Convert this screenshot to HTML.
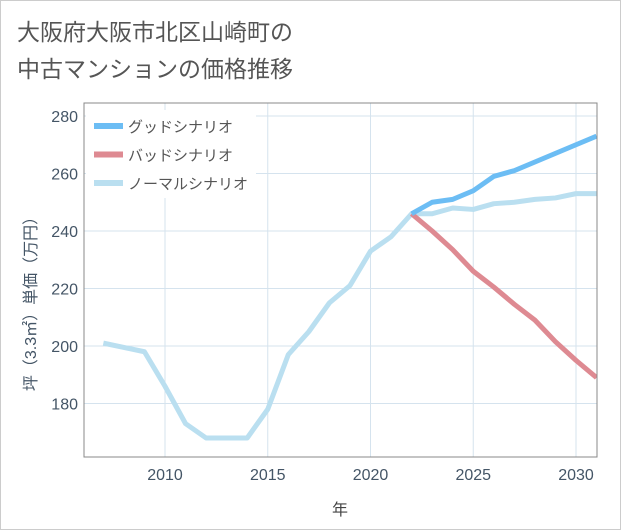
<!DOCTYPE html>
<html><head><meta charset="utf-8"><style>
body{margin:0;background:#fff;}
.wrap{width:619px;height:528px;border:1px solid #ccc;position:relative;background:#fff;font-family:"Liberation Sans","Noto Sans CJK JP",sans-serif;}
</style></head><body>
<div class="wrap">
<svg width="621" height="530" style="position:absolute;left:-1px;top:-1px" id="chart">
<text x="17" y="40" font-size="23" fill="#555" font-family="Liberation Sans, Noto Sans CJK JP, sans-serif">大阪府大阪市北区山崎町の</text>
<text x="17" y="77" font-size="23" fill="#555" font-family="Liberation Sans, Noto Sans CJK JP, sans-serif">中古マンションの価格推移</text>
<g id="grid"></g>
<g id="series"></g>
<rect x="84" y="103" width="513" height="354" fill="none" stroke="#888" stroke-width="1"/>
<g id="ticks"></g>
<text x="340" y="515" font-size="16" fill="#444" text-anchor="middle" font-family="Liberation Sans, Noto Sans CJK JP, sans-serif">年</text>
<text transform="translate(36,300) rotate(-90)" font-size="16" fill="#445566" text-anchor="middle" font-family="Liberation Sans, Noto Sans CJK JP, sans-serif">坪（3.3㎡）単価（万円）</text>
<g id="legend"></g>
</svg>
</div>
<script>
const years=[2007,2008,2009,2010,2011,2012,2013,2014,2015,2016,2017,2018,2019,2020,2021,2022,2023,2024,2025,2026,2027,2028,2029,2030,2031];
const normal=[201,199.5,198,186,173,168,168,168,178,197,205,215,221,233,238,246,246,248,247.5,249.5,250,251,251.5,253,253];
const goodYears=[2022,2023,2024,2025,2026,2027,2028,2029,2030,2031];
const good=[246,250,251,254,259,261,264,267,270,273];
const bad=[246,240,233.5,226,220.5,214.5,209,201.5,195,189];
const xTicks=[2010,2015,2020,2025,2030];
const yTicks=[180,200,220,240,260,280];
const NS='http://www.w3.org/2000/svg';
const X=y=>165+(y-2010)*20.55;
const Y=v=>116+(280-v)*2.875;
const grid=document.getElementById('grid'),ticks=document.getElementById('ticks'),ser=document.getElementById('series'),leg=document.getElementById('legend');
function mk(tag,attrs,parent){const e=document.createElementNS(NS,tag);for(const k in attrs)e.setAttribute(k,attrs[k]);parent.appendChild(e);return e;}
xTicks.forEach(t=>{
 const l=mk('line',{x1:X(t),x2:X(t),y1:103,y2:457,stroke:'#d5e3ee','stroke-width':1},grid);
 
 
 const tx=mk('text',{x:X(t),y:480,'font-size':16,fill:'#445566','text-anchor':'middle'},ticks);
 tx.textContent=t;
 
 
});
yTicks.forEach(t=>{
 const l=mk('line',{x1:84,x2:597,y1:Y(t),y2:Y(t),stroke:'#d5e3ee','stroke-width':1},grid);
 
 
 const tx=mk('text',{x:78,y:Y(t)+6,'font-size':16,fill:'#445566','text-anchor':'end'},ticks);
 tx.textContent=t;
 
 
});
function line(xs,vs,color,name){
 const d=xs.map((x,i)=>(i?'L':'M')+X(x)+','+Y(vs[i])).join(' ');
 const p=mk('path',{d:d,fill:'none',stroke:color,'stroke-width':5,'stroke-linejoin':'round'},ser);
 
 
}
const clip=mk('clipPath',{id:'pc'},document.getElementById('chart'));
mk('rect',{x:84,y:103,width:513,height:354},clip);
ser.setAttribute('clip-path','url(#pc)');
line(years,normal,'#badff0','normal-scenario-line');
line(goodYears,bad,'#de8a92','bad-scenario-line');
line(goodYears,good,'#6cbdf4','good-scenario-line');
const lbg=mk('rect',{x:86,y:110,width:170,height:88,fill:'#fff'},leg);


[['グッドシナリオ','#6cbdf4'],['バッドシナリオ','#de8a92'],['ノーマルシナリオ','#badff0']].forEach((e,i)=>{
 const y=126+i*28.5;
 const r=mk('rect',{x:94,y:y-3,width:29,height:6,fill:e[1]},leg);
 
 
 const t=mk('text',{x:128,y:y+6,'font-size':15,fill:'#555'},leg);
 t.textContent=e[0];
 
 
});
</script>
</body></html>
